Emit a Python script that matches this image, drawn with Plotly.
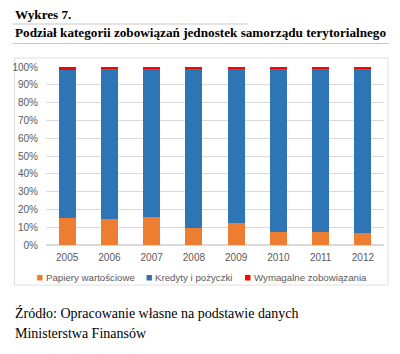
import plotly.graph_objects as go

years = ["2005", "2006", "2007", "2008", "2009", "2010", "2011", "2012"]
papiery = [15.2, 14.8, 15.6, 9.6, 12.5, 7.5, 7.1, 6.7]
wymagalne = [1.6, 1.3, 0.9, 0.8, 1.0, 0.9, 1.0, 0.6]
kredyty = [100 - p - w for p, w in zip(papiery, wymagalne)]

series_names = ["Papiery wartościowe", "Kredyty i pożyczki", "Wymagalne zobowiązania"]
series_colors = ["#ED7D31", "#2E75B6", "#FF0000"]

W, H = 400, 354
L, R, T, B = 41, 384, 67, 245  # plot area in pixels


def px(x):
    return (x - L) / (R - L)


def py(y):
    return (B - y) / (B - T)


fig = go.Figure()
for name, vals, col in zip(series_names, [papiery, kredyty, wymagalne], series_colors):
    fig.add_bar(x=years, y=vals, name=name, marker_color=col, marker_line_width=0)

serif = "Liberation Serif, Times New Roman, serif"
sans = "Liberation Sans, Arial, sans-serif"
gray = "#595959"

annotations = [
    dict(text="<b>Wykres 7.</b>", x=px(8), y=py(15), xanchor="left", yanchor="middle",
         font=dict(family=serif, size=13.2, color="#000")),
    dict(text="<b>Podział kategorii zobowiązań jednostek samorządu terytorialnego</b>",
         x=px(8), y=py(33), xanchor="left", yanchor="middle",
         font=dict(family=serif, size=13.2, color="#000")),
    dict(text="Źródło: Opracowanie własne na podstawie danych", x=px(8), y=py(313),
         xanchor="left", yanchor="middle", font=dict(family=serif, size=14, color="#000")),
    dict(text="Ministerstwa Finansów", x=px(8), y=py(333),
         xanchor="left", yanchor="middle", font=dict(family=serif, size=14, color="#000")),
]

# legend (drawn as text + small squares)
legend_sq_x = [32, 143, 243]
legend_txt_x = [39, 150, 250]
legend_y = 277.5
shapes = []
for name, col, sx, tx in zip(series_names, series_colors, legend_sq_x, legend_txt_x):
    annotations.append(dict(text=name, x=px(tx), y=py(legend_y), xanchor="left", yanchor="middle",
                            font=dict(family=sans, size=9.7, color=gray)))
    shapes.append(dict(type="rect", x0=px(sx), x1=px(sx + 5.5), y0=py(legend_y - 2.5),
                       y1=py(legend_y + 3), fillcolor=col, line=dict(width=0)))

for a in annotations:
    a.update(xref="paper", yref="paper", showarrow=False)

shapes += [
    dict(type="line", x0=px(7), x1=px(246), y0=py(24), y1=py(24), line=dict(color="#c8c8c8", width=1)),
    dict(type="line", x0=px(7), x1=px(389), y0=py(43.5), y1=py(43.5), line=dict(color="#c8c8c8", width=1)),
    dict(type="rect", x0=px(9), x1=px(388), y0=py(58), y1=py(285), line=dict(color="#e0e0e0", width=1)),
]
for s in shapes:
    s.update(xref="paper", yref="paper", layer="below")

fig.update_layout(
    width=W, height=H,
    margin=dict(l=L, r=W - R, t=T, b=H - B),
    barmode="stack",
    bargap=0.6,
    plot_bgcolor="white",
    paper_bgcolor="white",
    font=dict(family=sans, size=10, color=gray),
    showlegend=False,
    annotations=annotations,
    shapes=shapes,
    xaxis=dict(showgrid=False, showline=False, ticks="", ticklabelstandoff=5,
               tickfont=dict(size=10, color=gray)),
    yaxis=dict(range=[0, 100], dtick=10, ticksuffix="%", showgrid=True, gridcolor="#d9d9d9",
               zeroline=True, zerolinecolor="#d9d9d9", showline=False, ticks="",
               ticklabelstandoff=7, tickfont=dict(size=10, color=gray)),
)

fig.write_html("out.html")
